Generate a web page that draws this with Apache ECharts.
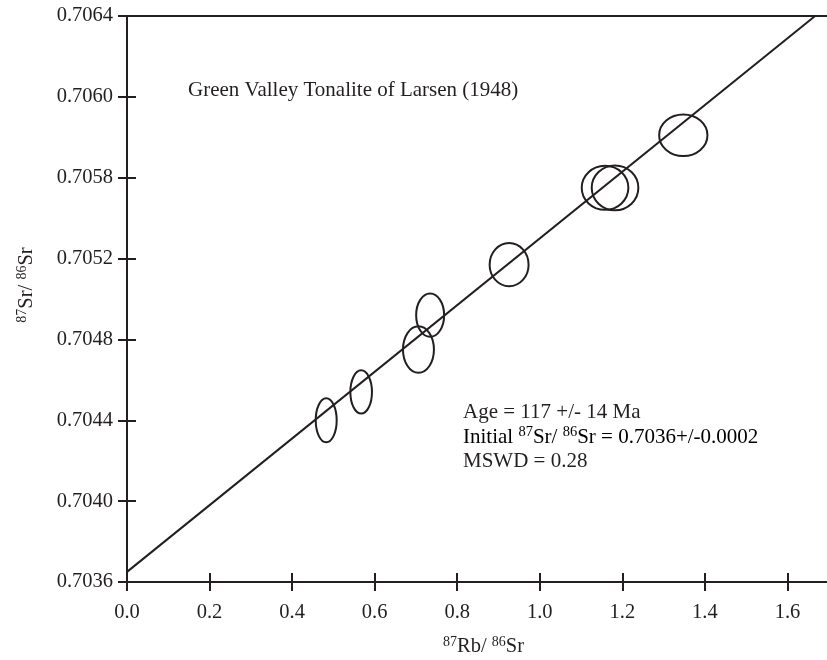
<!DOCTYPE html>
<html>
<head>
<meta charset="utf-8">
<script src="https://cdn.jsdelivr.net/npm/echarts@6/dist/echarts.min.js"></script>
<style>
html,body{margin:0;padding:0;background:#fff;}
#chart{width:827px;height:660px;}
</style>
</head>
<body>
<div id="chart"></div>
<script>
// ---- data ----
const xTickLabels = ['0.0', '0.2', '0.4', '0.6', '0.8', '1.0', '1.2', '1.4', '1.6'];
const yTickLabels = ['0.7036', '0.7040', '0.7044', '0.7048', '0.7052', '0.7058', '0.7060', '0.7064'];
const sampleRbSr = [0.4826, 0.5673, 0.7061, 0.7344, 0.9257, 1.1581, 1.1823, 1.3477];
const sampleSrSr = [0.70440, 0.70454, 0.70475, 0.70492, 0.70517, 0.70555, 0.70555, 0.70581];
const errRbSr = [0.0254, 0.0262, 0.0375, 0.0339, 0.0472, 0.0565, 0.0565, 0.0585];
const errSrSr = [0.000109, 0.000107, 0.000115, 0.000107, 0.000107, 0.000109, 0.000111, 0.000103];
const isochronX = [0, 1.667];
const isochronY = [0.70365, 0.7064];
const titleText = 'Green Valley Tonalite of Larsen (1948)';
const ageText = 'Age = 117 +/- 14 Ma';
const initialValue = '0.7036+/-0.0002';
const mswdText = 'MSWD = 0.28';

// ---- build ----
const INK = '#231f20';
const FONT = "'Liberation Serif', 'Times New Roman', serif";
const richAxis = {
  n: { fontFamily: FONT, fontSize: 20.5, color: INK, lineHeight: 24 },
  s: { fontFamily: FONT, fontSize: 14, color: INK, lineHeight: 14, verticalAlign: 'top' }
};
const richNote = {
  n: { fontFamily: FONT, fontSize: 21, color: INK, lineHeight: 24 },
  s: { fontFamily: FONT, fontSize: 14.5, color: INK, lineHeight: 14, verticalAlign: 'top' }
};

const ellipseData = sampleRbSr.map((x, i) => [x, sampleSrSr[i], errRbSr[i], errSrSr[i]]);
const lineData = isochronX.map((x, i) => [x, isochronY[i]]);

const X_MIN = 0, X_MAX = 1.8, X_INT = 0.2;
const Y_MIN = 0.7036, Y_MAX = 0.7064, Y_INT = 0.0004;

function yLabel(v) {
  const idx = Math.round((v - Y_MIN) / Y_INT);
  return yTickLabels[idx] !== undefined ? yTickLabels[idx] : '';
}
function xLabel(v) {
  const idx = Math.round((v - X_MIN) / X_INT);
  return xTickLabels[idx] !== undefined ? xTickLabels[idx] : '';
}

const chart = echarts.init(document.getElementById('chart'), null, { renderer: 'canvas' });

const baseX = {
  type: 'value', min: X_MIN, max: X_MAX, interval: X_INT, position: 'bottom',
  splitLine: { show: false }
};
const baseY = {
  type: 'value', min: Y_MIN, max: Y_MAX, interval: Y_INT, position: 'left',
  splitLine: { show: false }
};

const option = {
  backgroundColor: '#ffffff',
  animation: false,
  grid: {
    left: 127, top: 16, width: 743, height: 566,
    containLabel: false, outerBoundsMode: 'none',
    show: true, borderColor: INK, borderWidth: 2, backgroundColor: 'transparent'
  },
  xAxis: [
    Object.assign({}, baseX, {
      axisLine: { show: true, onZero: false, lineStyle: { color: INK, width: 2 } },
      axisTick: { show: true, inside: false, length: 9, lineStyle: { color: INK, width: 2 } },
      axisLabel: { show: true, margin: 20, formatter: xLabel, color: INK, fontFamily: FONT, fontSize: 20.5 },
      name: '{s|87}{n|Rb/ }{s|86}{n|Sr}',
      nameLocation: 'middle',
      nameGap: 53,
      nameTextStyle: { rich: richAxis, padding: [0, 30, 0, 0] }
    }),
    Object.assign({}, baseX, {
      axisLine: { show: false, onZero: false },
      axisTick: { show: true, inside: true, length: 9, lineStyle: { color: INK, width: 2 } },
      axisLabel: { show: false }
    })
  ],
  yAxis: [
    Object.assign({}, baseY, {
      axisLine: { show: true, onZero: false, lineStyle: { color: INK, width: 2 } },
      axisTick: { show: true, inside: false, length: 9, lineStyle: { color: INK, width: 2 } },
      axisLabel: { show: true, margin: 14, formatter: yLabel, color: INK, fontFamily: FONT, fontSize: 20.5 },
      name: '{s|87}{n|Sr/ }{s|86}{n|Sr}',
      nameLocation: 'middle',
      nameGap: 88,
      nameTextStyle: { rich: richAxis, padding: [0, 0, 0, 28] }
    }),
    Object.assign({}, baseY, {
      axisLine: { show: false, onZero: false },
      axisTick: { show: true, inside: true, length: 9, lineStyle: { color: INK, width: 2 } },
      axisLabel: { show: false }
    })
  ],
  graphic: [
    { type: 'text', x: 188, y: 90, style: { text: titleText, fontFamily: FONT, fontSize: 21, fill: INK, verticalAlign: 'middle' } },
    { type: 'text', x: 463, y: 412, style: { text: ageText, fontFamily: FONT, fontSize: 21, fill: INK, verticalAlign: 'middle' } },
    { type: 'text', x: 463, y: 437, style: {
        text: '{n|Initial }{s|87}{n|Sr/ }{s|86}{n|Sr = ' + initialValue + '}',
        rich: richNote, verticalAlign: 'middle' } },
    { type: 'text', x: 463, y: 461, style: { text: mswdText, fontFamily: FONT, fontSize: 21, fill: INK, verticalAlign: 'middle' } }
  ],
  series: [
    {
      type: 'line', xAxisIndex: 0, yAxisIndex: 0, data: lineData,
      showSymbol: false, symbol: 'none',
      lineStyle: { color: INK, width: 2 }, z: 3
    },
    {
      type: 'custom', xAxisIndex: 0, yAxisIndex: 0, data: ellipseData,
      renderItem: function (params, api) {
        const c = api.coord([api.value(0), api.value(1)]);
        const s = api.size([api.value(2), api.value(3)]);
        return {
          type: 'ellipse',
          shape: { cx: c[0], cy: c[1], rx: s[0], ry: s[1] },
          style: { fill: 'none', stroke: INK, lineWidth: 2 }
        };
      },
      z: 4
    }
  ]
};
chart.setOption(option);
</script>
</body>
</html>
